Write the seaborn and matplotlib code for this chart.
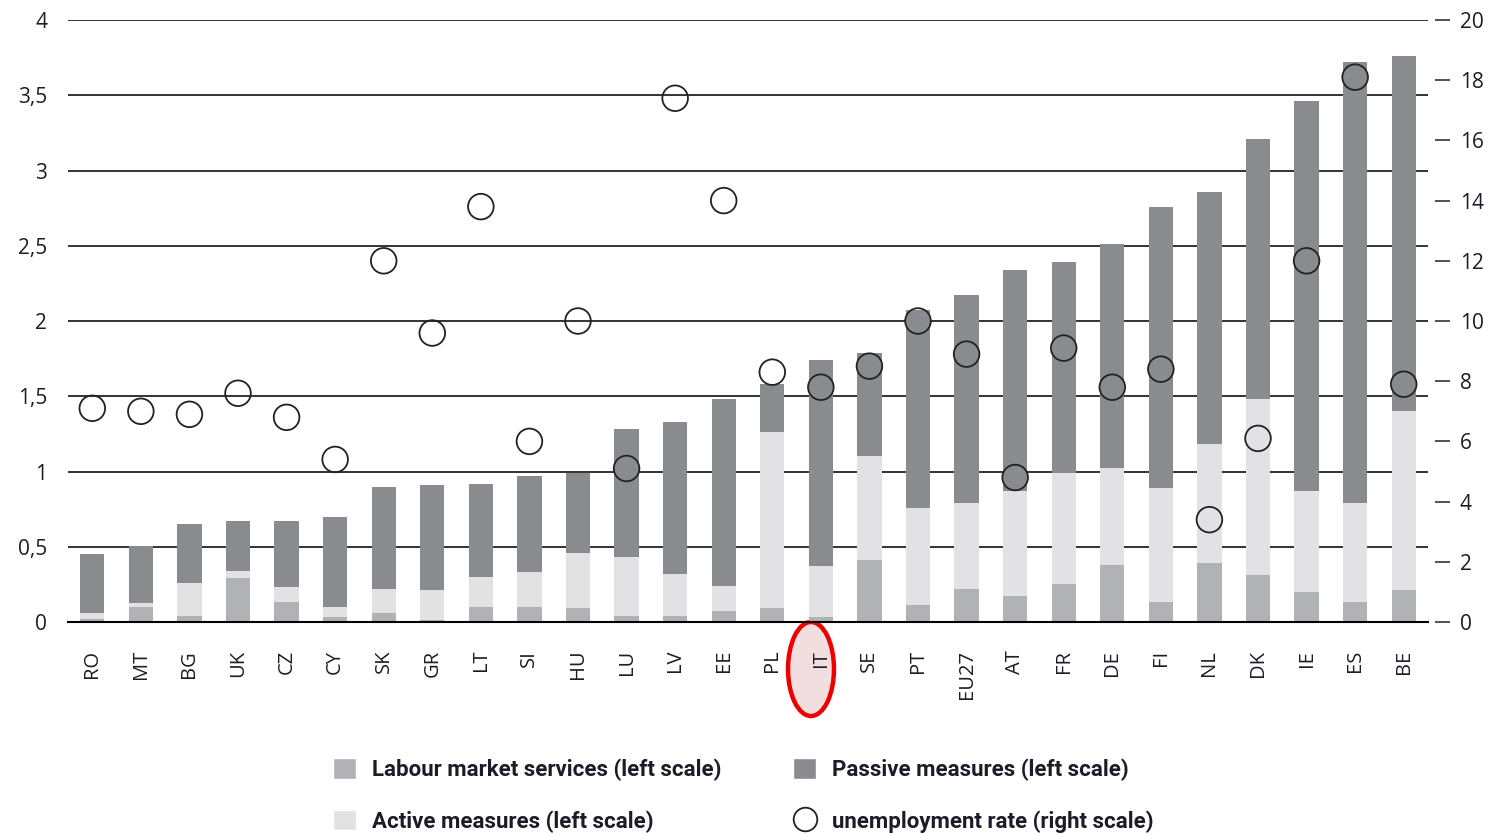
import seaborn as sns
import matplotlib.pyplot as plt
import pandas as pd
import numpy as np
from matplotlib.patches import Ellipse, Patch
from matplotlib.lines import Line2D
from matplotlib.ticker import FuncFormatter, MultipleLocator
from matplotlib.font_manager import FontProperties

countries = ['RO', 'MT', 'BG', 'UK', 'CZ', 'CY', 'SK', 'GR', 'LT', 'SI', 'HU', 'LU', 'LV', 'EE',
             'PL', 'IT', 'SE', 'PT', 'EU27', 'AT', 'FR', 'DE', 'FI', 'NL', 'DK', 'IE', 'ES', 'BE']
# % of GDP (left scale)
labour = [0.02, 0.10, 0.04, 0.29, 0.13, 0.03, 0.06, 0.01, 0.10, 0.10, 0.09, 0.04, 0.04, 0.07,
          0.09, 0.03, 0.41, 0.11, 0.22, 0.17, 0.25, 0.38, 0.13, 0.39, 0.31, 0.20, 0.13, 0.21]
active = [0.04, 0.025, 0.22, 0.05, 0.10, 0.07, 0.16, 0.20, 0.20, 0.23, 0.37, 0.39, 0.28, 0.17,
          1.17, 0.34, 0.69, 0.65, 0.57, 0.70, 0.74, 0.64, 0.76, 0.79, 1.17, 0.67, 0.66, 1.19]
passive = [0.39, 0.38, 0.39, 0.33, 0.44, 0.60, 0.68, 0.70, 0.62, 0.64, 0.53, 0.85, 1.01, 1.24,
           0.32, 1.37, 0.69, 1.31, 1.38, 1.47, 1.40, 1.49, 1.87, 1.68, 1.73, 2.59, 2.93, 2.36]
# unemployment rate % (right scale)
unemployment = [7.1, 7.0, 6.9, 7.6, 6.8, 5.4, 12.0, 9.6, 13.8, 6.0, 10.0, 5.1, 17.4, 14.0,
                8.3, 7.8, 8.5, 10.0, 8.9, 4.8, 9.1, 7.8, 8.4, 3.4, 6.1, 12.0, 18.1, 7.9]

c_labour = '#b1b2b5'
c_active = '#e2e2e4'
c_passive = '#8a8b8f'
text_col = '#1c1c28'

df = pd.DataFrame({'country': countries, 'labour': labour, 'active': active,
                   'passive': passive, 'unemp': unemployment})
df['lab_act'] = df['labour'] + df['active']
df['total'] = df['lab_act'] + df['passive']
df['pos'] = np.arange(len(df))

sns.set_style('white')
plt.rcParams['font.family'] = ['Open Sans', 'DejaVu Sans']

W, H = 1496, 835
fig = plt.figure(figsize=(W / 100, H / 100), dpi=100)
ax = fig.add_axes([68 / W, 1 - 622 / H, (1428 - 68) / W, (622 - 20) / H])
ax.set_facecolor('none')

# stacked bars: draw cumulative totals on top of each other
for col, c in [('total', c_passive), ('lab_act', c_active), ('labour', c_labour)]:
    sns.barplot(data=df, x='country', y=col, order=countries, color=c, saturation=1,
                width=0.5, errorbar=None, linewidth=0, ax=ax)

ax.set_xlim(-0.5, len(countries) - 0.5)
ax.set_ylim(0, 4)
ax.yaxis.set_major_locator(MultipleLocator(0.5))
ax.yaxis.set_major_formatter(FuncFormatter(lambda v, p: f'{v:g}'.replace('.', ',')))
ax.yaxis.grid(True, color='#333333', lw=1.4)
ax.set_axisbelow(True)
ax.tick_params(axis='y', length=0, pad=15, labelsize=15, labelcolor=text_col)
ax.tick_params(axis='x', which='major', length=0, pad=20, labelsize=14.5,
               labelrotation=90, labelcolor=text_col)
ax.set_xticks(np.arange(-0.5, len(countries)), minor=True)
ax.tick_params(axis='x', which='minor', length=11.5, width=1.3, color='black', direction='out')
for s in ['left', 'top', 'right']:
    ax.spines[s].set_visible(False)
ax.spines['bottom'].set_color('black')
ax.spines['bottom'].set_linewidth(1.5)
ax.set_xlabel('')
ax.set_ylabel('')

ax2 = ax.twinx()
ax2.set_facecolor('none')
sns.scatterplot(data=df, x='pos', y='unemp', ax=ax2, s=340, marker='o',
                facecolors='none', edgecolor='#222222', linewidth=1.3, zorder=5)
ax2.set_xlim(-0.5, len(countries) - 0.5)
ax2.set_ylim(0, 20)
ax2.yaxis.set_major_locator(MultipleLocator(2))
ax2.tick_params(axis='y', length=11, width=1.2, color='#333333', pad=7,
                labelsize=15, labelcolor=text_col)
ax2.spines['right'].set_position(('outward', 5))
for s in ax2.spines:
    ax2.spines[s].set_visible(False)
ax2.set_xlabel('')
ax2.set_ylabel('')

# highlight for IT
fig.add_artist(Ellipse((811 / W, 1 - 669 / H), 46 / W, 94 / H, transform=fig.transFigure,
                       fc='#f2dede', ec='#ee0000', lw=3.2, zorder=-1))

font = FontProperties(family=['Roboto', 'DejaVu Sans'], weight='bold', size=16)
leg_kw = dict(loc='upper left', frameon=False, borderpad=0, borderaxespad=0,
              handlelength=1.05, handleheight=1.05, handletextpad=0.7,
              labelspacing=1.3, prop=font, labelcolor=text_col)
fig.legend(handles=[Patch(fc=c_labour), Patch(fc=c_active)],
           labels=['Labour market services (left scale)', 'Active measures (left scale)'],
           bbox_to_anchor=(333 / W, 1 - 758 / H), **leg_kw)
fig.legend(handles=[Patch(fc=c_passive),
                    Line2D([], [], ls='none', marker='o', ms=17, mfc='none',
                           mec='#222222', mew=1.3)],
           labels=['Passive measures (left scale)', 'unemployment rate (right scale)'],
           bbox_to_anchor=(793 / W, 1 - 758 / H), **leg_kw)

fig.savefig('out.png', dpi=100)
